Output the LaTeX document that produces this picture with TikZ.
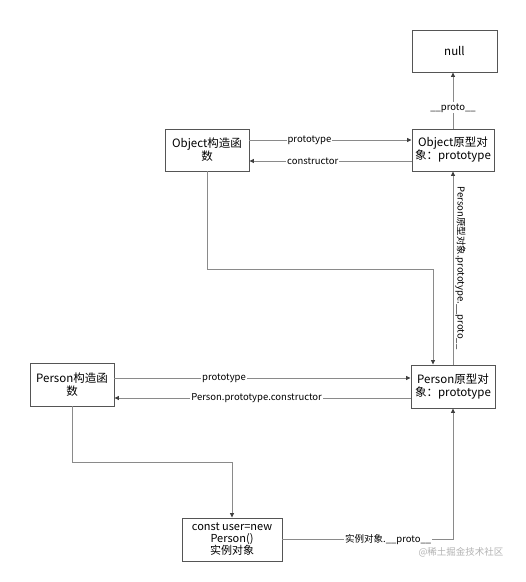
\documentclass[tikz,border=0pt]{standalone}
\usepackage{fontspec}
\setmainfont{Noto Sans CJK SC}
\usetikzlibrary{arrows.meta,calc}
\definecolor{boxc}{HTML}{555555}
\definecolor{linec}{HTML}{8A8A8A}
\begin{document}
\begin{tikzpicture}[x=1pt,y=-1pt,
  box/.style={draw=boxc,line width=0.9pt,fill=white,minimum height=42pt,align=center,inner sep=1pt,font=\fontsize{11.5}{13}\selectfont},
  conn/.style={draw=linec,line width=0.8pt},
  arr/.style={conn,-{Triangle[length=4.5pt,width=4pt,fill=black!75,color=black!75]}},
  lbl/.style={fill=white,inner sep=1pt,font=\fontsize{9.5}{10}\selectfont}]
\useasboundingbox (0,0) rectangle (526,582);
\node[box,minimum width=85pt] (null) at (454.5,51) {null};
\node[box,minimum width=84pt] (objC) at (207,150) {Object构造函\\数};
\node[box,minimum width=82pt] (objP) at (453,150) {Object原型对\\象：prototype};
\node[box,minimum width=84pt,minimum height=43pt] (perC) at (72,384.5) {Person构造函\\数};
\node[box,minimum width=84pt,minimum height=43pt] (perP) at (453,386.5) {Person原型对\\象：prototype};
\node[box,minimum width=100pt,minimum height=43pt,font=\fontsize{11}{12}\selectfont] (inst) at (232,539.5) {const user=new\\Person()\\实例对象};
\coordinate (k1) at (0,269);
\coordinate (k2) at (0,462);
% Object level
\draw[arr] ([yshift=10pt]objC.east) -- ([yshift=10pt]objC.east -| objP.west) node[lbl,pos=0.37] {prototype};
\draw[arr] ([yshift=-11pt]objP.west) -- ([yshift=-11pt]objP.west -| objC.east) node[lbl,pos=0.61] {constructor};
\draw[arr] (objP.north) -- (objP.north |- null.south) node[lbl,pos=0.37] {\_\_proto\_\_};
% Person proto to Object proto
\draw[arr] (perP.north) -- (objP.south) node[pos=0.5,anchor=south,rotate=-90,inner sep=2pt,font=\fontsize{9.5}{10}\selectfont] {Person原型对象.prototype.\_\_proto\_\_};
% Object ctor to Person proto
\draw[arr] (objC.south) -- (objC.south |- k1) -| ([xshift=-20pt]perP.north);
% Person level
\draw[arr] ([yshift=6.5pt]perC.east) -- ([yshift=6.5pt]perC.east -| perP.west) node[lbl,pos=0.37] {prototype};
\draw[arr] ([yshift=-11.5pt]perP.west) -- ([yshift=-11.5pt]perP.west -| perC.east) node[lbl,pos=0.52] {Person.prototype.constructor};
\draw[arr] (perC.south) -- (perC.south |- k2) -| (inst.north);
\draw[arr] (inst.east) -| (perP.south) node[lbl,pos=0.31] {实例对象.\_\_proto\_\_};
\node[text=black!30,font=\fontsize{9.5}{10}\selectfont] (wm) at (461,552) {@稀土掘金技术社区};
\end{tikzpicture}
\end{document}
